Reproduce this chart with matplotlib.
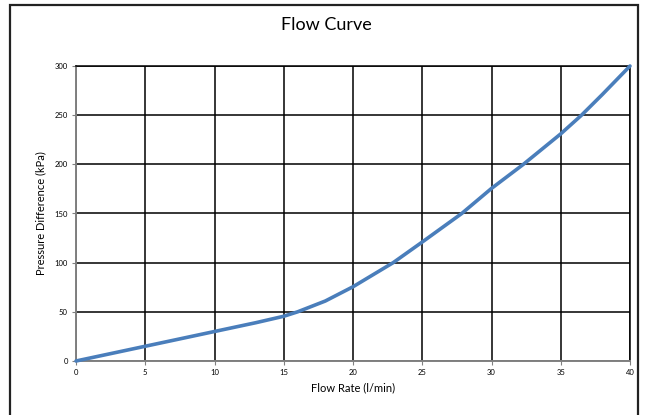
import matplotlib
matplotlib.use("Agg")
import matplotlib.pyplot as plt
from matplotlib.patches import Rectangle

plt.rcParams['font.family'] = ['Lato', 'DejaVu Sans']

flow_rate = [0, 5, 10, 13, 15, 16, 18, 20, 22.9, 25, 27.85, 30, 32.3, 35, 36.5, 38, 40]
pressure_diff = [0, 15, 30, 39, 45.5, 50, 61, 75.5, 100, 121, 150, 175.5, 200, 231, 250, 271, 300]
x_ticks = [0, 5, 10, 15, 20, 25, 30, 35, 40]
y_ticks = [0, 50, 100, 150, 200, 250, 300]

fig = plt.figure(figsize=(6.48, 4.15), dpi=100)
fig.patches.append(Rectangle((10/648, -0.05), 628/648, 1.05 - 5/415, transform=fig.transFigure,
                             fill=False, edgecolor='#222222', linewidth=1.6, zorder=0))
ax = fig.add_axes([76/648, 54/415, 554/648, 295/415])

ax.plot(flow_rate, pressure_diff, color='#4a7ebb', linewidth=2.6, solid_capstyle='round',
        solid_joinstyle='round', zorder=3, clip_on=False)

ax.set_xlim(0, 40)
ax.set_ylim(0, 300)
ax.set_xticks(x_ticks)
ax.set_yticks(y_ticks)
ax.grid(True, color='black', linewidth=1.1)
ax.set_axisbelow(True)
for s in ['top', 'right']:
    ax.spines[s].set_color('black')
    ax.spines[s].set_linewidth(1.1)
for s in ['left', 'bottom']:
    ax.spines[s].set_color('#808080')
    ax.spines[s].set_linewidth(1.4)
ax.tick_params(axis='both', labelsize=5.5, length=3, color='#808080', width=0.8, pad=3)

ax.set_xlabel('Flow Rate (l/min)', fontsize=8, labelpad=4)
ax.set_ylabel('Pressure Difference (kPa)', fontsize=8, labelpad=6)
fig.text(326/648, 1 - 25/415, 'Flow Curve', fontsize=13, ha='center', va='center')

fig.savefig('out.png', dpi=100)
